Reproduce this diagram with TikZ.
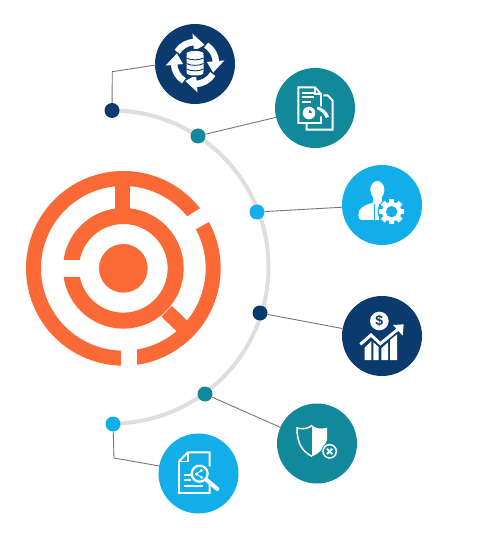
\documentclass[tikz,border=0pt]{standalone}
\usepackage{fontspec}
\setmainfont{Liberation Sans}
\definecolor{navy}{HTML}{0B3A6F}
\definecolor{tealc}{HTML}{12899A}
\definecolor{sky}{HTML}{12AEE9}
\definecolor{logoc}{HTML}{FB6A36}
\definecolor{arcgray}{HTML}{DEDEDE}
\definecolor{linkgray}{HTML}{777777}
\tikzset{
  badge/.style={circle,inner sep=0pt,minimum size=80pt,fill=#1},
  hub/.style={circle,inner sep=0pt,minimum size=15pt,fill=#1},
  link/.style={draw=linkgray,line width=0.9pt},
  ico/.style={draw=white,line width=1.9pt,line join=miter},
  icofill/.style={fill=white,draw=none}
}
\begin{document}
\begin{tikzpicture}[x=1pt,y=1pt,yscale=-1]
\useasboundingbox (0,0) rectangle (485,534);
\fill[white] (0,0) rectangle (485,534);
% arc
\draw[arcgray,line width=4pt] (112,110.5) arc[start angle=-90,end angle=90,radius=156.5];
% hubs and badges
\node[hub=navy] (d1) at (112,110.5) {};
\node[hub=tealc] (d2) at (198,136) {};
\node[hub=sky] (d3) at (257,212) {};
\node[hub=navy] (d4) at (260,313) {};
\node[hub=tealc] (d5) at (205,394) {};
\node[hub=sky] (d6) at (113,424) {};
\node[badge=navy] (c1) at (195,64) {};
\node[badge=tealc] (c2) at (315,108) {};
\node[badge=sky] (c3) at (382,205) {};
\node[badge=navy] (c4) at (382,336) {};
\node[badge=tealc] (c5) at (317,443.5) {};
\node[badge=sky] (c6) at (198.5,473.5) {};
\coordinate (e1) at (112.3,71.7);
\coordinate (e6) at (114,458);
\coordinate (t1) at (156,65);
\coordinate (t6) at (159.5,466);
\draw[link] (d1) -- (e1) -- (t1);
\draw[link] (d2) -- (c2);
\draw[link] (d3) -- (c3);
\draw[link] (d4) -- (c4);
\draw[link] (d5) -- (c5);
\draw[link] (d6) -- (e6) -- (t6);
% logo
\begin{scope}[shift={(10,150)},scale=1/3]
  \draw[logoc,line width=15pt] (340,355) circle[radius=269.5];
  \draw[logoc,line width=16pt] (340,355) circle[radius=157];
  \fill[logoc] (340,355) circle[radius=73];
  \fill[logoc] (315,95) rectangle (360,190);
  \draw[logoc,line width=15pt] (470,484) -- (520,532);
  \fill[white] (150,330) rectangle (216,380);
  \fill[white] (332,590) rectangle (380,660);
  \fill[white] (510,213) -- (600,156) -- (625,199) -- (540,248) -- cycle;
\end{scope}
% icon 1: database with cycle arrows
\begin{scope}[shift={(195,63)}]
  \foreach \r in {0,90,180,270}{
    \draw[white,line width=6.5pt] (212+\r:21) arc[start angle=212+\r,end angle=268+\r,radius=21];
    \fill[white] (265+\r:29.5) -- (298+\r:20.5) -- (265+\r:12) -- cycle;
  }
  \fill[navy] (-11,-14) rectangle (11,14.5);
  \fill[white,rounded corners=2pt] (-8.5,-9.5) rectangle (8.5,10);
  \fill[white] (0,-9.5) ellipse[x radius=8.5,y radius=2.5];
  \fill[white] (0,10) ellipse[x radius=8.5,y radius=2.5];
  \foreach \yy in {-5,0.5,6}{
    \draw[navy,line width=0.9pt] (-8.5,\yy) .. controls (-4,\yy+2.5) and (4,\yy+2.5) .. (8.5,\yy);
  }
\end{scope}
% icon 2: report pages
\begin{scope}[shift={(285,78)},scale=1/3]
  \draw[ico] (115,52) -- (128,52) -- (143,68) -- (143,155) -- (65,155) -- (65,137);
  \draw[ico] (108,85) -- (108,48) -- (90,28) -- (40,28) -- (40,135) -- (108,135) -- (108,115);
  \draw[ico] (90,28) -- (90,48) -- (108,48);
  \draw[ico] (50,45) -- (88,45);
  \draw[ico] (50,58) -- (88,58);
  \draw[ico] (50,72) -- (78,72);
  \fill[white] (72,105) circle[radius=19];
  \fill[tealc] (72,105) -- (72,96) arc[start angle=-90,end angle=0,radius=9] -- cycle;
  \fill[white] (96,86) .. controls (112,88) and (126,100) .. (132,116) -- (122,120) .. controls (116,106) and (108,98) .. (96,94) -- cycle;
\end{scope}
% icon 3: person with gear
\begin{scope}[shift={(350,175)},scale=1/3]
  \fill[white] (82,45) ellipse[x radius=21,y radius=27];
  \fill[white] (68,60) rectangle (96,92);
  \fill[white] (25,120) .. controls (25,100) and (40,92) .. (66,84) -- (98,84) -- (100,135) -- (34,135) .. controls (28,135) and (25,128) .. (25,120) -- cycle;
  \draw[sky,line width=1pt] (74,88) -- (74,137);
  \draw[sky,line width=1pt] (88,88) -- (88,137);
  \fill[sky] (125,110) circle[radius=42];
  \foreach \a in {0,45,...,315}{
    \fill[white,rotate around={\a:(125,110)}] (117,72) rectangle (133,95);
  }
  \fill[white] (125,110) circle[radius=29];
  \fill[sky] (125,110) circle[radius=17];
\end{scope}
% icon 4: coin and growth chart
\begin{scope}[shift={(352,305)},scale=1/3]
  \fill[white] (82,48) circle[radius=28];
  \node[text=navy,font=\bfseries\fontsize{14}{14}\selectfont,inner sep=0pt] (dollar) at (82,48) {\$};
  \fill[white] (38,165) -- (38,128) -- (58,108) -- (58,165) -- cycle;
  \fill[white] (64,165) -- (64,112) -- (80,126) -- (80,165) -- cycle;
  \fill[white] (88,165) -- (88,130) -- (108,112) -- (108,165) -- cycle;
  \fill[white] (114,165) -- (114,105) -- (135,88) -- (135,165) -- cycle;
  \draw[navy,line width=5.5pt] (22,118) -- (57,88) -- (85,114) -- (142,68);
  \draw[white,line width=3pt] (25,118) -- (57,90) -- (85,116) -- (140,71);
  \fill[white] (123,60) -- (155,58) -- (152,92) -- cycle;
\end{scope}
% icon 5: shield
\begin{scope}[shift={(287,413)},scale=1/3]
  \draw[ico,line width=1.5pt] (75,130) .. controls (45,115) and (30,90) .. (30,45) .. controls (50,50) and (65,46) .. (75,37);
  \fill[white] (75,37) .. controls (85,46) and (100,50) .. (120,44) -- (120,80) .. controls (115,100) and (100,120) .. (75,130) -- cycle;
  \fill[tealc] (128,115) circle[radius=25];
  \draw[white,line width=1.5pt] (128,115) circle[radius=20];
  \draw[white,line width=2pt] (120,107) -- (136,123);
  \draw[white,line width=2pt] (136,107) -- (120,123);
\end{scope}
% icon 6: document with magnifier
\begin{scope}[shift={(168,443)},scale=1/3]
  \draw[ico] (125,70) -- (125,28) -- (60,28) -- (33,55) -- (33,150) -- (125,150) -- (125,118);
  \draw[ico,line width=1.4pt] (60,28) -- (60,55) -- (33,55);
  \draw[ico] (48,95) -- (70,95);
  \draw[ico] (48,110) -- (70,110);
  \draw[ico] (48,128) -- (105,128);
  \draw[white,line width=2.2pt] (95,92) circle[radius=24];
  \draw[white,line width=4pt,line cap=round] (115,110) -- (148,138);
  \draw[white,line width=0.8pt] (100,83) -- (85,93) -- (101,103);
  \fill[white] (85,93) circle[radius=5];
  \fill[white] (100,83) circle[radius=5];
  \fill[white] (101,103) circle[radius=5];
\end{scope}
\end{tikzpicture}
\end{document}
